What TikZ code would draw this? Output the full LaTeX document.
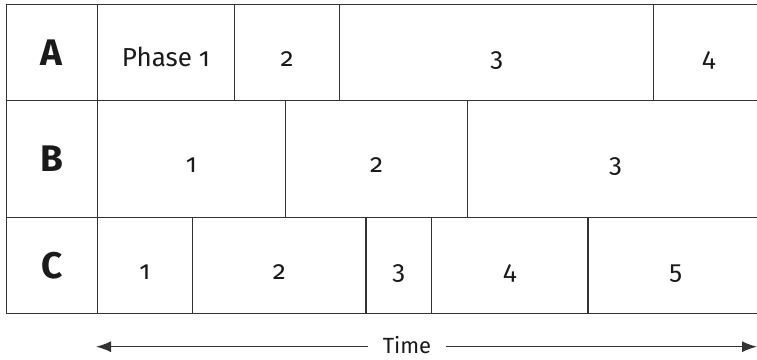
\documentclass[tikz,border=0pt]{standalone}
\usepackage{fontspec}
\setmainfont[Numbers=OldStyle]{Fira Sans}
\usetikzlibrary{arrows.meta}
\definecolor{ln}{HTML}{333333}
\definecolor{tx}{HTML}{1A1A1A}
\tikzset{
  cell/.style={draw=ln, line width=1.3pt, rectangle, inner sep=0pt, anchor=north west,
    minimum height=#1, text=tx, font=\fontsize{26}{30}\selectfont,
    text height=28pt, text depth=0pt},
  hdr/.style={font=\fontsize{37}{40}\bfseries\selectfont, text height=, text depth=},
  axis/.style={draw=ln, line width=1.3pt},
  tip/.style={-{Latex[length=15pt,width=11pt]}}
}
\begin{document}
\begin{tikzpicture}[x=1pt,y=-1pt]
\useasboundingbox (0,0) rectangle (757,359);
% Row A (y 4 -> 100)
\node[cell=96pt, hdr, minimum width=90.5pt] (la) at (6,4) {A};
\node[cell=96pt, minimum width=137.5pt] (a1) at (96.5,4) {Phase 1};
\node[cell=96pt, minimum width=105pt] (a2) at (234,4) {2};
\node[cell=96pt, minimum width=314pt] (a3) at (339,4) {3};
\node[cell=96pt, minimum width=110pt] (a4) at (653,4) {4};
% Row B (y 100 -> 216.5)
\node[cell=116.5pt, hdr, minimum width=90.5pt] (lb) at (6,100) {B};
\node[cell=116.5pt, minimum width=188.5pt] (b1) at (96.5,100) {1};
\node[cell=116.5pt, minimum width=181.7pt] (b2) at (285,100) {2};
\node[cell=116.5pt, minimum width=296.3pt] (b3) at (466.7,100) {3};
% Row C (y 216.5 -> 312.7)
\node[cell=96.2pt, hdr, minimum width=90.5pt] (lc) at (6,216.5) {C};
\node[cell=96.2pt, minimum width=95.5pt] (c1) at (96.5,216.5) {1};
\node[cell=96.2pt, minimum width=173.3pt] (c2) at (192,216.5) {2};
\node[cell=96.2pt, minimum width=65.4pt] (c3) at (365.3,216.5) {3};
\node[cell=96.2pt, minimum width=156.6pt] (c4) at (430.7,216.5) {4};
\node[cell=96.2pt, minimum width=175.7pt] (c5) at (587.3,216.5) {5};
% Time axis
\node[text=tx, font=\fontsize{22}{24}\selectfont, inner xsep=15pt, inner ysep=0pt] (time) at (407,345.5) {Time};
\coordinate (tl) at (96,346.7);
\coordinate (tr) at (757,346.7);
\draw[axis, tip] (time.west |- tl) -- (tl);
\draw[axis, tip] (time.east |- tr) -- (tr);
\end{tikzpicture}
\end{document}
